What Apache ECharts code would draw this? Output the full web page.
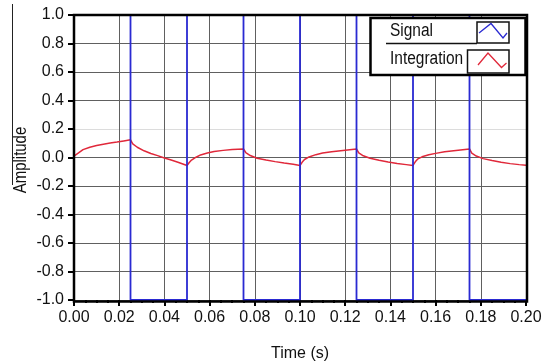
<!DOCTYPE html>
<html>
<head>
<meta charset="utf-8">
<script src="https://cdn.jsdelivr.net/npm/echarts@6/dist/echarts.min.js"></script>
<style>
html,body{margin:0;padding:0;background:#fff;}
#chart{width:542px;height:363px;}
</style>
</head>
<body>
<div id="chart"></div>
<script>
// ---- data ----
var signalTime  = [0, 0.025, 0.05, 0.075, 0.1, 0.125, 0.15, 0.175, 0.2];
var signalValue = [1, -1, 1, -1, 1, -1, 1, -1, -1];

var integTime = [
  0, 0.002, 0.004, 0.007, 0.010, 0.013, 0.016, 0.019, 0.022, 0.025,
  0.026, 0.028, 0.031, 0.034, 0.037, 0.040, 0.043, 0.046, 0.050,
  0.051, 0.052, 0.054, 0.056, 0.059, 0.062, 0.066, 0.070, 0.075,
  0.076, 0.078, 0.081, 0.085, 0.089, 0.093, 0.097, 0.100,
  0.101, 0.102, 0.104, 0.107, 0.110, 0.114, 0.118, 0.122, 0.125,
  0.126, 0.128, 0.131, 0.135, 0.139, 0.143, 0.147, 0.150,
  0.151, 0.152, 0.154, 0.157, 0.160, 0.164, 0.168, 0.172, 0.175,
  0.176, 0.178, 0.181, 0.185, 0.189, 0.193, 0.197, 0.200
];
var integValue = [
  0.010, 0.032, 0.055, 0.072, 0.084, 0.093, 0.101, 0.108, 0.116, 0.124,
  0.095, 0.072, 0.047, 0.028, 0.013, -0.004, -0.018, -0.033, -0.056,
  -0.035, -0.018, 0.002, 0.018, 0.032, 0.042, 0.050, 0.056, 0.060,
  0.035, 0.014, -0.005, -0.018, -0.029, -0.039, -0.048, -0.056,
  -0.032, -0.014, 0.004, 0.020, 0.031, 0.041, 0.048, 0.055, 0.060,
  0.033, 0.012, -0.005, -0.020, -0.032, -0.042, -0.050, -0.056,
  -0.030, -0.012, 0.005, 0.019, 0.029, 0.040, 0.048, 0.055, 0.060,
  0.030, 0.010, -0.008, -0.021, -0.033, -0.043, -0.050, -0.055
];

var seriesNames = ['Signal', 'Integration'];
var xTitle = 'Time (s)';
var yTitle = 'Amplitude';
var xMin = 0, xMax = 0.2, xStep = 0.02;
var yMin = -1, yMax = 1, yStep = 0.2;

// ---- build ----
function zip(a, b) { var r = []; for (var i = 0; i < a.length; i++) r.push([a[i], b[i]]); return r; }

var FONT = '"Liberation Sans Narrow", "Arial Narrow", "Liberation Sans", Arial, sans-serif';
var C_SIG = '#2a2ad2';
var C_INT = '#e0283a';

// horizontal grid colours (0.2 line is light in the reference)
var hColors = [];
for (var v = yMin; v <= yMax + 1e-9; v += yStep) {
  hColors.push(Math.abs(v - 0.2) < 1e-6 ? '#dcdcdc' : '#606060');
}

var G = {left: 74, right: 16, top: 15, bottom: 63};
var W = 542, H = 363;
var pw = W - G.left - G.right, ph = H - G.top - G.bottom;

var chart = echarts.init(document.getElementById('chart'), null, {renderer: 'canvas'});
chart.setOption({
  animation: false,
  backgroundColor: '#ffffff',
  grid: {left: G.left, right: G.right, top: G.top, bottom: G.bottom, show: false,
    containLabel: false, outerBoundsMode: 'none'},
  xAxis: {
    type: 'value', min: xMin, max: xMax, interval: xStep,
    name: xTitle, nameLocation: 'middle', nameGap: 46, nameMoveOverlap: false,
    nameTextStyle: {fontFamily: FONT, fontSize: 16, color: '#111'},
    axisLine: {show: false, onZero: false},
    axisTick: {show: true, inside: false, length: 6, lineStyle: {color: '#000', width: 2}},
    minorTick: {show: true, splitNumber: 4, length: 3, lineStyle: {color: '#000', width: 2}},
    splitLine: {show: true, lineStyle: {color: '#606060', width: 1}},
    axisLabel: {fontFamily: FONT, fontSize: 16, color: '#111', margin: 10,
      formatter: function (v) { return v.toFixed(2); }}
  },
  yAxis: {
    type: 'value', min: yMin, max: yMax, interval: yStep,
    axisLine: {show: false, onZero: false},
    axisTick: {show: true, inside: false, length: 6, lineStyle: {color: '#000', width: 2}},
    splitLine: {show: true, lineStyle: {color: hColors, width: 1}},
    axisLabel: {fontFamily: FONT, fontSize: 16, color: '#111', margin: 10,
      formatter: function (v) { return Math.abs(v) < 1e-9 ? '0.0' : v.toFixed(1); }}
  },
  series: [
    {
      name: seriesNames[1], type: 'line', data: zip(integTime, integValue),
      showSymbol: false, smooth: false,
      lineStyle: {color: C_INT, width: 1.5}, z: 3
    },
    {
      name: seriesNames[0], type: 'line', data: zip(signalTime, signalValue),
      step: 'end', showSymbol: false,
      lineStyle: {color: C_SIG, width: 1.8}, z: 4
    }
  ],
  graphic: [
    // plot frame drawn over the series
    {type: 'rect', shape: {x: G.left, y: G.top, width: pw + 1, height: ph + 1.5},
      style: {fill: null, stroke: '#000', lineWidth: 2.5}, z: 10, silent: true},
    // y axis title (rotated) with its overline
    {type: 'text', x: 21, y: 160, rotation: Math.PI / 2, scaleX: 0.83,
      style: {text: yTitle, font: '18px ' + FONT, fill: '#111', align: 'center', verticalAlign: 'middle'}, z: 10},
    {type: 'line', shape: {x1: 12.5, y1: 4, x2: 12.5, y2: 185}, style: {stroke: '#222', lineWidth: 1}, z: 10},
    // legend box
    {type: 'rect', shape: {x: 370.5, y: 18, width: 155, height: 57}, style: {fill: '#fff', stroke: '#000', lineWidth: 2.5}, z: 20},
    {type: 'text', x: 390, y: 31, scaleX: 0.86, originX: 0,
      style: {text: seriesNames[0], font: '18px ' + FONT, fill: '#111', verticalAlign: 'middle'}, z: 21},
    {type: 'line', shape: {x1: 386, y1: 43.5, x2: 477, y2: 43.5}, style: {stroke: '#111', lineWidth: 1.5}, z: 21},
    {type: 'rect', shape: {x: 477, y: 22, width: 32, height: 21}, style: {fill: '#fff', stroke: '#111', lineWidth: 1.5}, z: 21},
    {type: 'polyline', shape: {points: [[479, 33], [491, 23.5], [503, 38], [507, 33]]}, style: {stroke: C_SIG, lineWidth: 1.3, fill: null}, z: 22},
    {type: 'text', x: 390, y: 59.5, scaleX: 0.86, originX: 0,
      style: {text: seriesNames[1], font: '18px ' + FONT, fill: '#111', verticalAlign: 'middle'}, z: 21},
    {type: 'rect', shape: {x: 467.5, y: 50, width: 41.5, height: 23}, style: {fill: '#fff', stroke: '#111', lineWidth: 1.5}, z: 21},
    {type: 'polyline', shape: {points: [[478, 65], [488, 53], [501.5, 67.5], [506.5, 63]]}, style: {stroke: C_INT, lineWidth: 1.3, fill: null}, z: 22}
  ]
});
</script>
</body>
</html>
